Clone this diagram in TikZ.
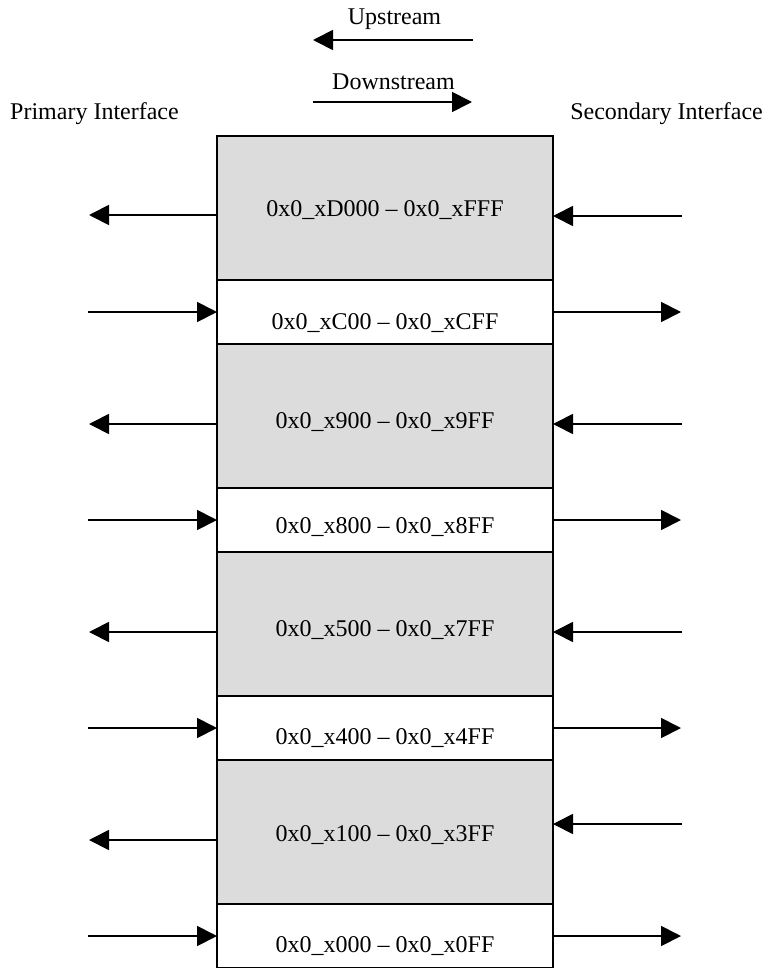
\documentclass[tikz,border=0pt]{standalone}
\usepackage{fontspec}
\setmainfont{Liberation Serif}
\usetikzlibrary{arrows.meta,calc}
\definecolor{boxgray}{HTML}{DCDCDC}
\begin{document}
\begin{tikzpicture}[x=1pt,y=-1pt,
  every node/.style={font=\fontsize{24}{28}\selectfont},
  rowbox/.style={draw=black, line width=1.8pt, minimum width=336pt, inner sep=0pt, outer sep=0pt, anchor=north west},
  shadedrow/.style={rowbox, fill=boxgray, minimum height=144pt},
  plainrow/.style={rowbox, fill=white, minimum height=64pt},
  rangetxt/.style={anchor=base, inner sep=0pt},
  arr/.style={line width=1.8pt, -{Triangle[length=20pt,width=20pt]}}
]
\useasboundingbox (0,0) rectangle (768,968);

% header
\node[anchor=base, inner sep=0pt] (up) at (394.5,25) {Upstream};
\coordinate (upR) at (473,40);
\coordinate (upL) at (313,40);
\draw[arr] (upR) -- (upL);
\node[anchor=base, inner sep=0pt] (down) at (393.5,90) {Downstream};
\coordinate (dnL) at (313,102);
\coordinate (dnR) at (472,102);
\draw[arr] (dnL) -- (dnR);
\node[anchor=base west, inner sep=0pt] (prim) at (10,120) {Primary Interface};
\node[anchor=base east, inner sep=0pt] (sec) at (763,120) {Secondary Interface};

% rows
\node[shadedrow] (r1) at (217,136) {};
\node[plainrow]  (r2) at (217,280) {};
\node[shadedrow] (r3) at (217,344) {};
\node[plainrow]  (r4) at (217,488) {};
\node[shadedrow] (r5) at (217,552) {};
\node[plainrow]  (r6) at (217,696) {};
\node[shadedrow] (r7) at (217,760) {};
\node[plainrow]  (r8) at (217,904) {};

\node[rangetxt] (t1) at ($(r1.center)+(0,9)$)  {0x0\_xD000 -- 0x0\_xFFF};
\node[rangetxt] (t2) at ($(r2.center)+(0,17)$) {0x0\_xC00 -- 0x0\_xCFF};
\node[rangetxt] (t3) at ($(r3.center)+(0,12)$) {0x0\_x900 -- 0x0\_x9FF};
\node[rangetxt] (t4) at ($(r4.center)+(0,13)$) {0x0\_x800 -- 0x0\_x8FF};
\node[rangetxt] (t5) at ($(r5.center)+(0,12)$) {0x0\_x500 -- 0x0\_x7FF};
\node[rangetxt] (t6) at ($(r6.center)+(0,16)$) {0x0\_x400 -- 0x0\_x4FF};
\node[rangetxt] (t7) at ($(r7.center)+(0,9)$)  {0x0\_x100 -- 0x0\_x3FF};
\node[rangetxt] (t8) at ($(r8.center)+(0,16)$) {0x0\_x000 -- 0x0\_x0FF};

% left side (primary)
\coordinate (L1) at (89,215);
\coordinate (L2) at (88,312);
\coordinate (L3) at (89,424);
\coordinate (L4) at (88,520);
\coordinate (L5) at (89,632);
\coordinate (L6) at (88,728);
\coordinate (L7) at (89,840);
\coordinate (L8) at (88,936);
\draw[arr] (r1.west |- L1) -- (L1);
\draw[arr] (L2) -- (r2.west |- L2);
\draw[arr] (r3.west |- L3) -- (L3);
\draw[arr] (L4) -- (r4.west |- L4);
\draw[arr] (r5.west |- L5) -- (L5);
\draw[arr] (L6) -- (r6.west |- L6);
\draw[arr] (r7.west |- L7) -- (L7);
\draw[arr] (L8) -- (r8.west |- L8);

% right side (secondary)
\coordinate (R1) at (682,216);
\coordinate (R2) at (681,312);
\coordinate (R3) at (682,424);
\coordinate (R4) at (681,520);
\coordinate (R5) at (682,632);
\coordinate (R6) at (681,728);
\coordinate (R7) at (682,824);
\coordinate (R8) at (681,936);
\draw[arr] (R1) -- (r1.east |- R1);
\draw[arr] (r2.east |- R2) -- (R2);
\draw[arr] (R3) -- (r3.east |- R3);
\draw[arr] (r4.east |- R4) -- (R4);
\draw[arr] (R5) -- (r5.east |- R5);
\draw[arr] (r6.east |- R6) -- (R6);
\draw[arr] (R7) -- (r7.east |- R7);
\draw[arr] (r8.east |- R8) -- (R8);
\end{tikzpicture}
\end{document}
